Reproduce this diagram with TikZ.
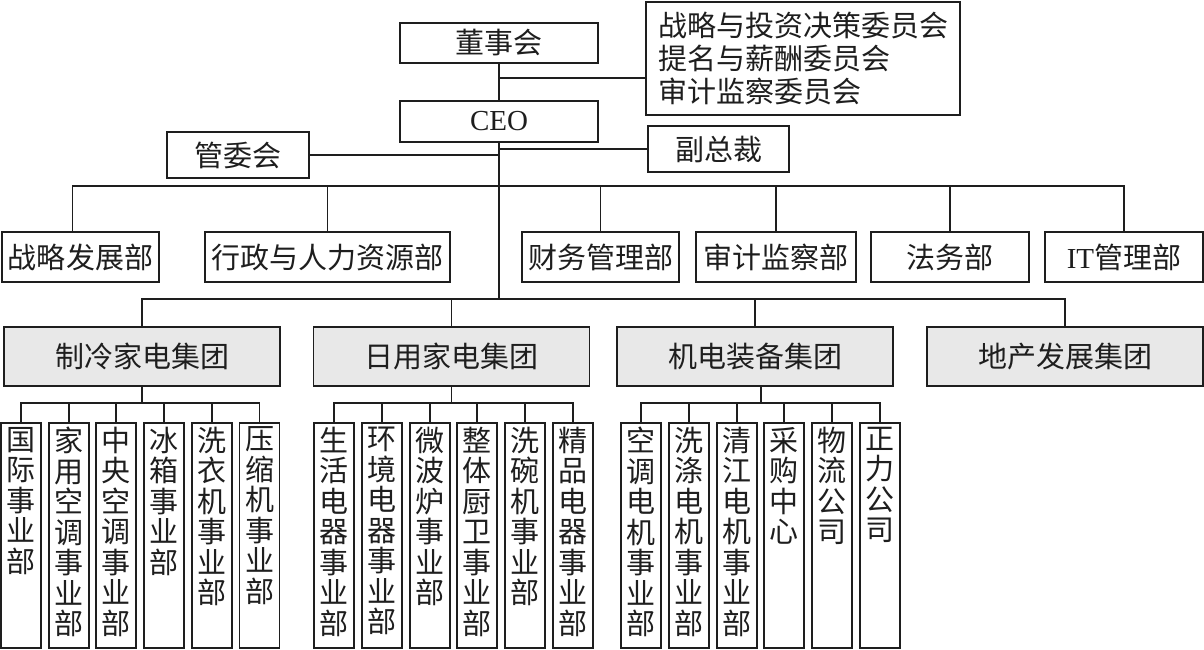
\documentclass[tikz,border=0pt]{standalone}
\usepackage{fontspec}
\setmainfont{Liberation Serif}
\newfontfamily\cjk{Noto Sans CJK SC}
\newcommand\cjkf{\cjk\fontsize{29}{33}\selectfont}
\newcommand\latf{\rmfamily\fontsize{29}{33}\selectfont}
\newcommand\vcol[1]{\parbox[c][225pt][t]{40pt}{\centering\cjk\fontsize{29}{30.5}\selectfont\vspace*{4pt}#1\par}}
\definecolor{grpgray}{RGB}{232,232,232}
\definecolor{ink}{RGB}{30,30,30}
\tikzset{
  box/.style={draw=ink, line width=1.9pt, inner sep=0pt, font=\cjkf, text=ink},
  grp/.style={box, fill=grpgray, minimum width=276pt, minimum height=59pt},
  dept/.style={box, minimum height=50pt},
  subcol/.style={draw=ink, text=ink, line width=1.9pt, inner sep=0pt, minimum width=40pt, minimum height=225pt},
  link/.style={draw=ink, line width=1.9pt, line cap=rect}
}
\begin{document}
\begin{tikzpicture}[x=1pt,y=-1pt]
\fill[white] (0,0) rectangle (1204,650);
\useasboundingbox (0,0) rectangle (1204,650);

% top
\node[box, minimum width=198pt, minimum height=40pt] (dsh) at (499,43) {董事会};
\node[box, minimum width=198pt, minimum height=41pt, font=\latf] (ceo) at (499,121.5) {CEO};
\node[box, minimum width=314pt, minimum height=113pt, align=left] (wyh) at (803,58.5)
  {战略与投资决策委员会\\提名与薪酬委员会\\审计监察委员会};
\node[box, minimum width=142pt, minimum height=46pt] (gwh) at (238,155) {管委会};
\node[box, minimum width=141pt, minimum height=46pt] (fzc) at (718.5,149) {副总裁};

% departments
\node[dept, minimum width=157pt] (zlfz) at (80.5,257) {战略发展部};
\node[dept, minimum width=245pt] (xz) at (327.5,257) {行政与人力资源部};
\node[dept, minimum width=157pt] (cw) at (600.5,257) {财务管理部};
\node[dept, minimum width=160pt] (sj) at (776,257) {审计监察部};
\node[dept, minimum width=158pt] (fw) at (950,257) {法务部};
\node[dept, minimum width=158pt] (it) at (1124,257) {{\rmfamily IT}管理部};

% groups
\node[grp] (zl) at (142,356.5) {制冷家电集团};
\node[grp] (ry) at (451.5,356.5) {日用家电集团};
\node[grp] (jd) at (755,356.5) {机电装备集团};
\node[grp] (dc) at (1065,356.5) {地产发展集团};

% sub units
\foreach \t [count=\i from 0] in {国\\际\\事\\业\\部, 家\\用\\空\\调\\事\\业\\部, 中\\央\\空\\调\\事\\业\\部, 冰\\箱\\事\\业\\部, 洗\\衣\\机\\事\\业\\部, 压\\缩\\机\\事\\业\\部}
  \node[subcol] (a\i) at ({21+47.7*\i},535.5) {\vcol{\t}};
\foreach \t [count=\i from 0] in {生\\活\\电\\器\\事\\业\\部, 环\\境\\电\\器\\事\\业\\部, 微\\波\\炉\\事\\业\\部, 整\\体\\厨\\卫\\事\\业\\部, 洗\\碗\\机\\事\\业\\部, 精\\品\\电\\器\\事\\业\\部}
  \node[subcol] (b\i) at ({334+47.8*\i},535.5) {\vcol{\t}};
\foreach \t [count=\i from 0] in {空\\调\\电\\机\\事\\业\\部, 洗\\涤\\电\\机\\事\\业\\部, 清\\江\\电\\机\\事\\业\\部, 采\\购\\中\\心, 物\\流\\公\\司, 正\\力\\公\\司}
  \node[subcol] (c\i) at ({641+47.8*\i},535.5) {\vcol{\t}};

% connectors
\coordinate (combr) at (0,78);
\coordinate (deptbar) at (0,186);
\coordinate (grpbar) at (0,299);
\coordinate (subbar) at (0,403);

\draw[link] (dsh.south) -- (ceo.north);
\draw[link] (dsh.south |- combr) -- (wyh.west |- combr);
\draw[link] (ceo.south) -- (ceo.south |- grpbar);
\draw[link] (gwh.east) -- (gwh.east -| ceo.south);
\draw[link] (fzc.west) -- (fzc.west -| ceo.south);

\draw[link] ([xshift=-8pt]zlfz.north |- deptbar) -- (it.north |- deptbar);
\draw[link] ([xshift=-8pt]zlfz.north) -- ([xshift=-8pt]zlfz.north |- deptbar);
\foreach \n in {xz,cw,sj,fw,it}
  \draw[link] (\n.north) -- (\n.north |- deptbar);

\draw[link] (zl.north |- grpbar) -- (dc.north |- grpbar);
\foreach \n in {zl,ry,jd,dc}
  \draw[link] (\n.north) -- (\n.north |- grpbar);

\draw[link] (zl.south) -- (zl.south |- subbar);
\draw[link] (a0.north |- subbar) -- (a5.north |- subbar);
\draw[link] (ry.south) -- (ry.south |- subbar);
\draw[link] (b0.north |- subbar) -- (b5.north |- subbar);
\draw[link] ([xshift=6pt]jd.south) -- ([xshift=6pt]jd.south |- subbar);
\draw[link] (c0.north |- subbar) -- (c5.north |- subbar);
\foreach \i in {0,...,5} {
  \draw[link] (a\i.north) -- (a\i.north |- subbar);
  \draw[link] (b\i.north) -- (b\i.north |- subbar);
  \draw[link] (c\i.north) -- (c\i.north |- subbar);
}
\end{tikzpicture}
\end{document}
